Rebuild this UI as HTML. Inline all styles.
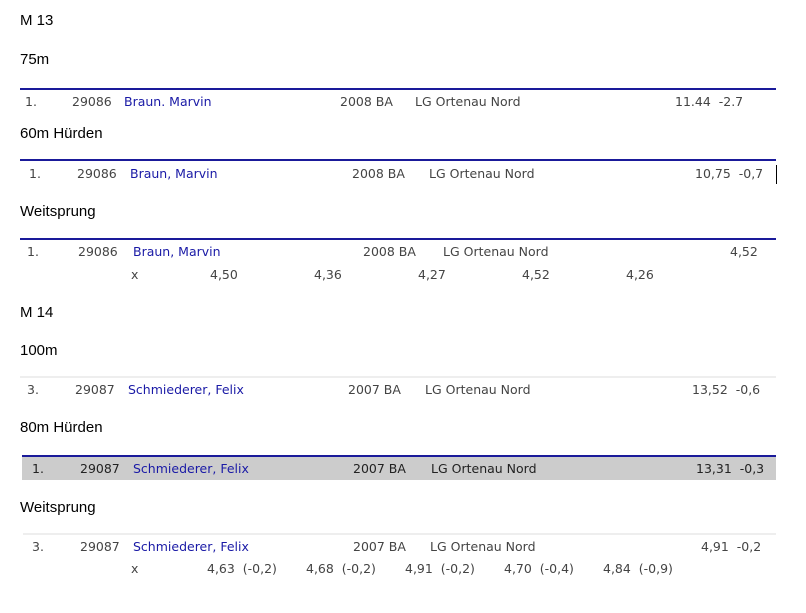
<!DOCTYPE html>
<html><head><meta charset="utf-8"><style>
body{margin:0;width:806px;height:613px;background:#fff;position:relative;overflow:hidden}
.t{position:absolute;white-space:nowrap;line-height:16px;transform:translateY(-8px)}
.h{font-family:"Liberation Sans",sans-serif;font-size:15px;color:#000}
.r{font-family:"DejaVu Sans",sans-serif;font-size:12.5px;color:#444}
.n{color:#1a1aa6}
.ln{position:absolute;height:2px;background:#1a1a9a}
.lg{position:absolute;height:2px;background:#eee}
</style></head><body>
<div class="t h" style="left:20px;top:21px">M 13</div>
<div class="t h" style="left:20px;top:60px">75m</div>
<div class="ln" style="left:20px;top:88px;width:756px"></div>
<div>
<span class="t r" style="left:25px;top:102px">1.</span><span class="t r" style="left:72px;top:102px">29086</span><span class="t r n" style="left:124px;top:102px">Braun. Marvin</span><span class="t r" style="left:340px;top:102px">2008 BA</span><span class="t r" style="left:415px;top:102px">LG Ortenau Nord</span><span class="t r" style="left:675px;top:102px">11.44&nbsp; -2.7</span></div>
<div class="t h" style="left:20px;top:134px">60m Hürden</div>
<div class="ln" style="left:20px;top:159px;width:756px"></div>
<div>
<span class="t r" style="left:29px;top:174px">1.</span><span class="t r" style="left:77px;top:174px">29086</span><span class="t r n" style="left:130px;top:174px">Braun, Marvin</span><span class="t r" style="left:352px;top:174px">2008 BA</span><span class="t r" style="left:429px;top:174px">LG Ortenau Nord</span><span class="t r" style="left:695px;top:174px">10,75&nbsp; -0,7</span></div>
<div style="position:absolute;left:776px;top:165px;width:1px;height:19px;background:#000"></div>
<div class="t h" style="left:20px;top:212px">Weitsprung</div>
<div class="ln" style="left:20px;top:238px;width:756px"></div>
<div>
<span class="t r" style="left:27px;top:252px">1.</span><span class="t r" style="left:78px;top:252px">29086</span><span class="t r n" style="left:133px;top:252px">Braun, Marvin</span><span class="t r" style="left:363px;top:252px">2008 BA</span><span class="t r" style="left:443px;top:252px">LG Ortenau Nord</span><span class="t r" style="left:730px;top:252px">4,52</span>
<span class="t r" style="left:131px;top:275px">x</span><span class="t r" style="left:210px;top:275px">4,50</span><span class="t r" style="left:314px;top:275px">4,36</span><span class="t r" style="left:418px;top:275px">4,27</span><span class="t r" style="left:522px;top:275px">4,52</span><span class="t r" style="left:626px;top:275px">4,26</span></div>
<div class="t h" style="left:20px;top:313px">M 14</div>
<div class="t h" style="left:20px;top:351px">100m</div>
<div class="lg" style="left:20px;top:376px;width:756px"></div>
<div>
<span class="t r" style="left:27px;top:390px">3.</span><span class="t r" style="left:75px;top:390px">29087</span><span class="t r n" style="left:128px;top:390px">Schmiederer, Felix</span><span class="t r" style="left:348px;top:390px">2007 BA</span><span class="t r" style="left:425px;top:390px">LG Ortenau Nord</span><span class="t r" style="left:692px;top:390px">13,52&nbsp; -0,6</span></div>
<div class="t h" style="left:20px;top:428px">80m Hürden</div>
<div style="position:absolute;left:22px;top:455px;width:754px;height:25px;background:#cccccc;border-top:2px solid #1a1a9a;box-sizing:border-box"></div>
<div style="color:#222">
<span class="t r" style="left:32px;top:469px;color:#222">1.</span><span class="t r" style="left:80px;top:469px;color:#222">29087</span><span class="t r n" style="left:133px;top:469px">Schmiederer, Felix</span><span class="t r" style="left:353px;top:469px;color:#222">2007 BA</span><span class="t r" style="left:431px;top:469px;color:#222">LG Ortenau Nord</span><span class="t r" style="left:696px;top:469px;color:#222">13,31&nbsp; -0,3</span></div>
<div class="t h" style="left:20px;top:508px">Weitsprung</div>
<div class="lg" style="left:23px;top:533px;width:753px"></div>
<div>
<span class="t r" style="left:32px;top:547px">3.</span><span class="t r" style="left:80px;top:547px">29087</span><span class="t r n" style="left:133px;top:547px">Schmiederer, Felix</span><span class="t r" style="left:353px;top:547px">2007 BA</span><span class="t r" style="left:430px;top:547px">LG Ortenau Nord</span><span class="t r" style="left:701px;top:547px">4,91&nbsp; -0,2</span>
<span class="t r" style="left:131px;top:569px">x</span><span class="t r" style="left:207px;top:569px">4,63&nbsp; (-0,2)</span><span class="t r" style="left:306px;top:569px">4,68&nbsp; (-0,2)</span><span class="t r" style="left:405px;top:569px">4,91&nbsp; (-0,2)</span><span class="t r" style="left:504px;top:569px">4,70&nbsp; (-0,4)</span><span class="t r" style="left:603px;top:569px">4,84&nbsp; (-0,9)</span></div>
</body></html>
